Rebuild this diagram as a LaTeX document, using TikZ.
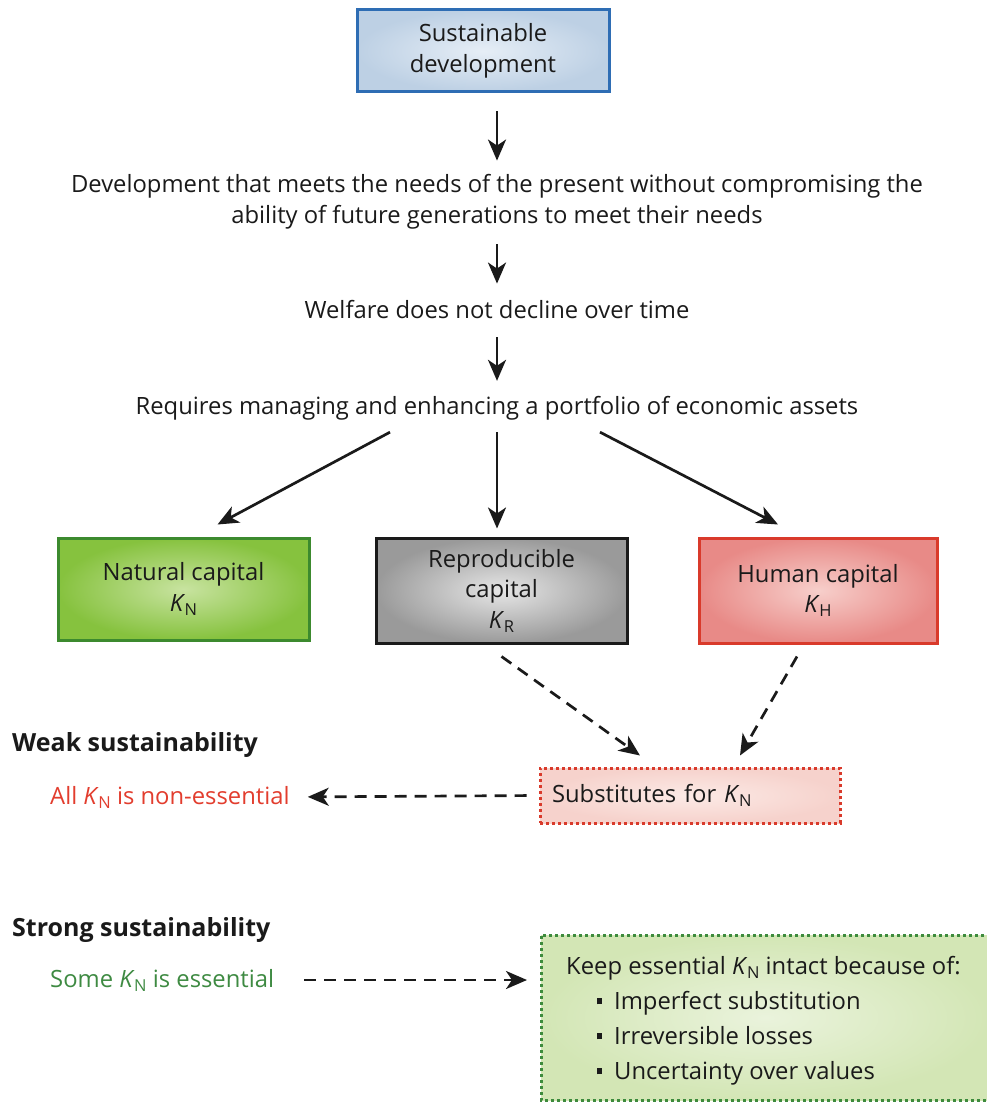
\documentclass[tikz,border=0pt]{standalone}
\usepackage{fontspec}
\setmainfont{Open Sans}
\usetikzlibrary{arrows.meta,calc}
\definecolor{sdblue}{HTML}{2E6DB4}
\definecolor{sdin}{HTML}{E6EEF6}
\definecolor{sdout}{HTML}{BDD0E4}
\definecolor{ngreen}{HTML}{3C8A2E}
\definecolor{nin}{HTML}{C8E3A0}
\definecolor{nout}{HTML}{86C23E}
\definecolor{gin}{HTML}{E6E6E6}
\definecolor{gout}{HTML}{9A9A9A}
\definecolor{hred}{HTML}{D93A2B}
\definecolor{hin}{HTML}{F7CFCB}
\definecolor{hout}{HTML}{E88A87}
\definecolor{sin}{HTML}{FCEAE6}
\definecolor{sout}{HTML}{F6D2CC}
\definecolor{kin}{HTML}{EAF3DC}
\definecolor{kout}{HTML}{D3E6B5}
\definecolor{kgreen}{HTML}{3D8B3D}
\definecolor{tred}{HTML}{E23D2E}
\definecolor{tgreen}{HTML}{3E8A42}
\definecolor{ink}{HTML}{1A1A1A}
\newcommand\Kcap[1]{\textit{K}\kern-0.5pt\raisebox{-4pt}{\fontsize{16.5}{16.5}\selectfont #1}}
\begin{document}
\begin{tikzpicture}[x=1pt,y=-1pt,
  txt/.style={font=\fontsize{23.8}{30.5}\selectfont, text=ink, align=center, inner sep=0pt},
  capbox/.style={txt, line width=3pt, minimum height=104pt},
  arr/.style={line width=2.7pt, ink, -{Stealth[length=21pt,width=18pt,inset=6pt]}},
  darr/.style={arr, dash pattern=on 12pt off 8pt},
  head/.style={font=\fontsize{25}{28}\selectfont\bfseries, text=ink, inner sep=0pt, anchor=base west}]
\useasboundingbox (0,0) rectangle (986,1102);

\node[txt, draw=sdblue, line width=3pt, inner color=sdin, outer color=sdout,
  minimum width=252pt, minimum height=82pt] (sd) at (483,51) {Sustainable\\development};

\node[txt] (dev) at (497,202) {Development that meets the needs of the present without compromising the\\ability of future generations to meet their needs};
\node[txt] (wel) at (497,310) {Welfare does not decline over time};
\node[txt] (req) at (497,408) {Requires managing and enhancing a portfolio of economic assets};

\node[capbox, draw=ngreen, inner color=nin, outer color=nout, minimum width=251pt, minimum height=102pt] (nat) at (183.5,589) {Natural capital\\\Kcap{N}};
\node[capbox, draw=ink, inner color=gin, outer color=gout, minimum width=251pt, minimum height=105pt] (rep) at (501.5,590.5) {Reproducible\\capital\\\Kcap{R}};
\node[capbox, draw=hred, inner color=hin, outer color=hout, minimum width=238pt, minimum height=105pt] (hum) at (818,590.5) {Human capital\\\Kcap{H}};

\node[txt, draw=hred, line width=3pt, dash pattern=on 3pt off 3pt, inner color=sin, outer color=sout,
  minimum width=300pt, minimum height=55pt, text width=276pt, align=left] (sub) at (690,795.5) {Substitutes for \Kcap{N}};

\node[head] (weak) at (12,751) {Weak sustainability};
\node[txt, text=tred, anchor=west] (all) at (50,797) {All \Kcap{N} is non-essential};

\node[head] (strong) at (12,936) {Strong sustainability};
\node[txt, text=tgreen, anchor=west] (some) at (50,980) {Some \Kcap{N} is essential};

\shade[inner color=kin, outer color=kout] (541,935) rectangle (990,1100);
\draw[kgreen, line width=3pt, dash pattern=on 3pt off 3pt] (990,935) -- (541,935) -- (541,1100) -- (990,1100);
\node[txt, align=left, anchor=north west, font=\fontsize{23.8}{35}\selectfont] (keep) at (566,956) {Keep essential \Kcap{N} intact because of:\\
\hspace*{31pt}\rule[5pt]{5pt}{6pt}\hspace*{12pt}Imperfect substitution\\
\hspace*{31pt}\rule[5pt]{5pt}{6pt}\hspace*{12pt}Irreversible losses\\
\hspace*{31pt}\rule[5pt]{5pt}{6pt}\hspace*{12pt}Uncertainty over values};
\coordinate (keepw) at (541,980);

\draw[arr, shorten <=18pt, shorten >=14pt] ([xshift=14pt]sd.south) -- (dev.north);
\draw[arr, shorten <=15pt, shorten >=17pt] (dev.south) -- (wel.north);
\draw[arr, shorten <=18pt, shorten >=15pt] (wel.south) -- (req.north);
\draw[arr] ($(req.south)+(-107,12)$) -- ($(nat.north)+(34,-12)$);
\draw[arr] ($(req.south)+(0,12)$) -- ($(rep.north)+(-4.5,-8)$);
\draw[arr] ($(req.south)+(103,12)$) -- ($(hum.north)+(-40,-12)$);
\draw[darr] ($(rep.south)+(0,12)$) -- ($(sub.north)+(-50,-11)$);
\draw[darr] ($(hum.south)+(-21,12)$) -- ($(sub.north)+(50,-11)$);
\draw[darr, shorten <=12pt, shorten >=18pt] (sub.west) -- (all.east);
\draw[darr, shorten <=30pt, shorten >=14pt] (some.east) -- (keepw);
\end{tikzpicture}
\end{document}
